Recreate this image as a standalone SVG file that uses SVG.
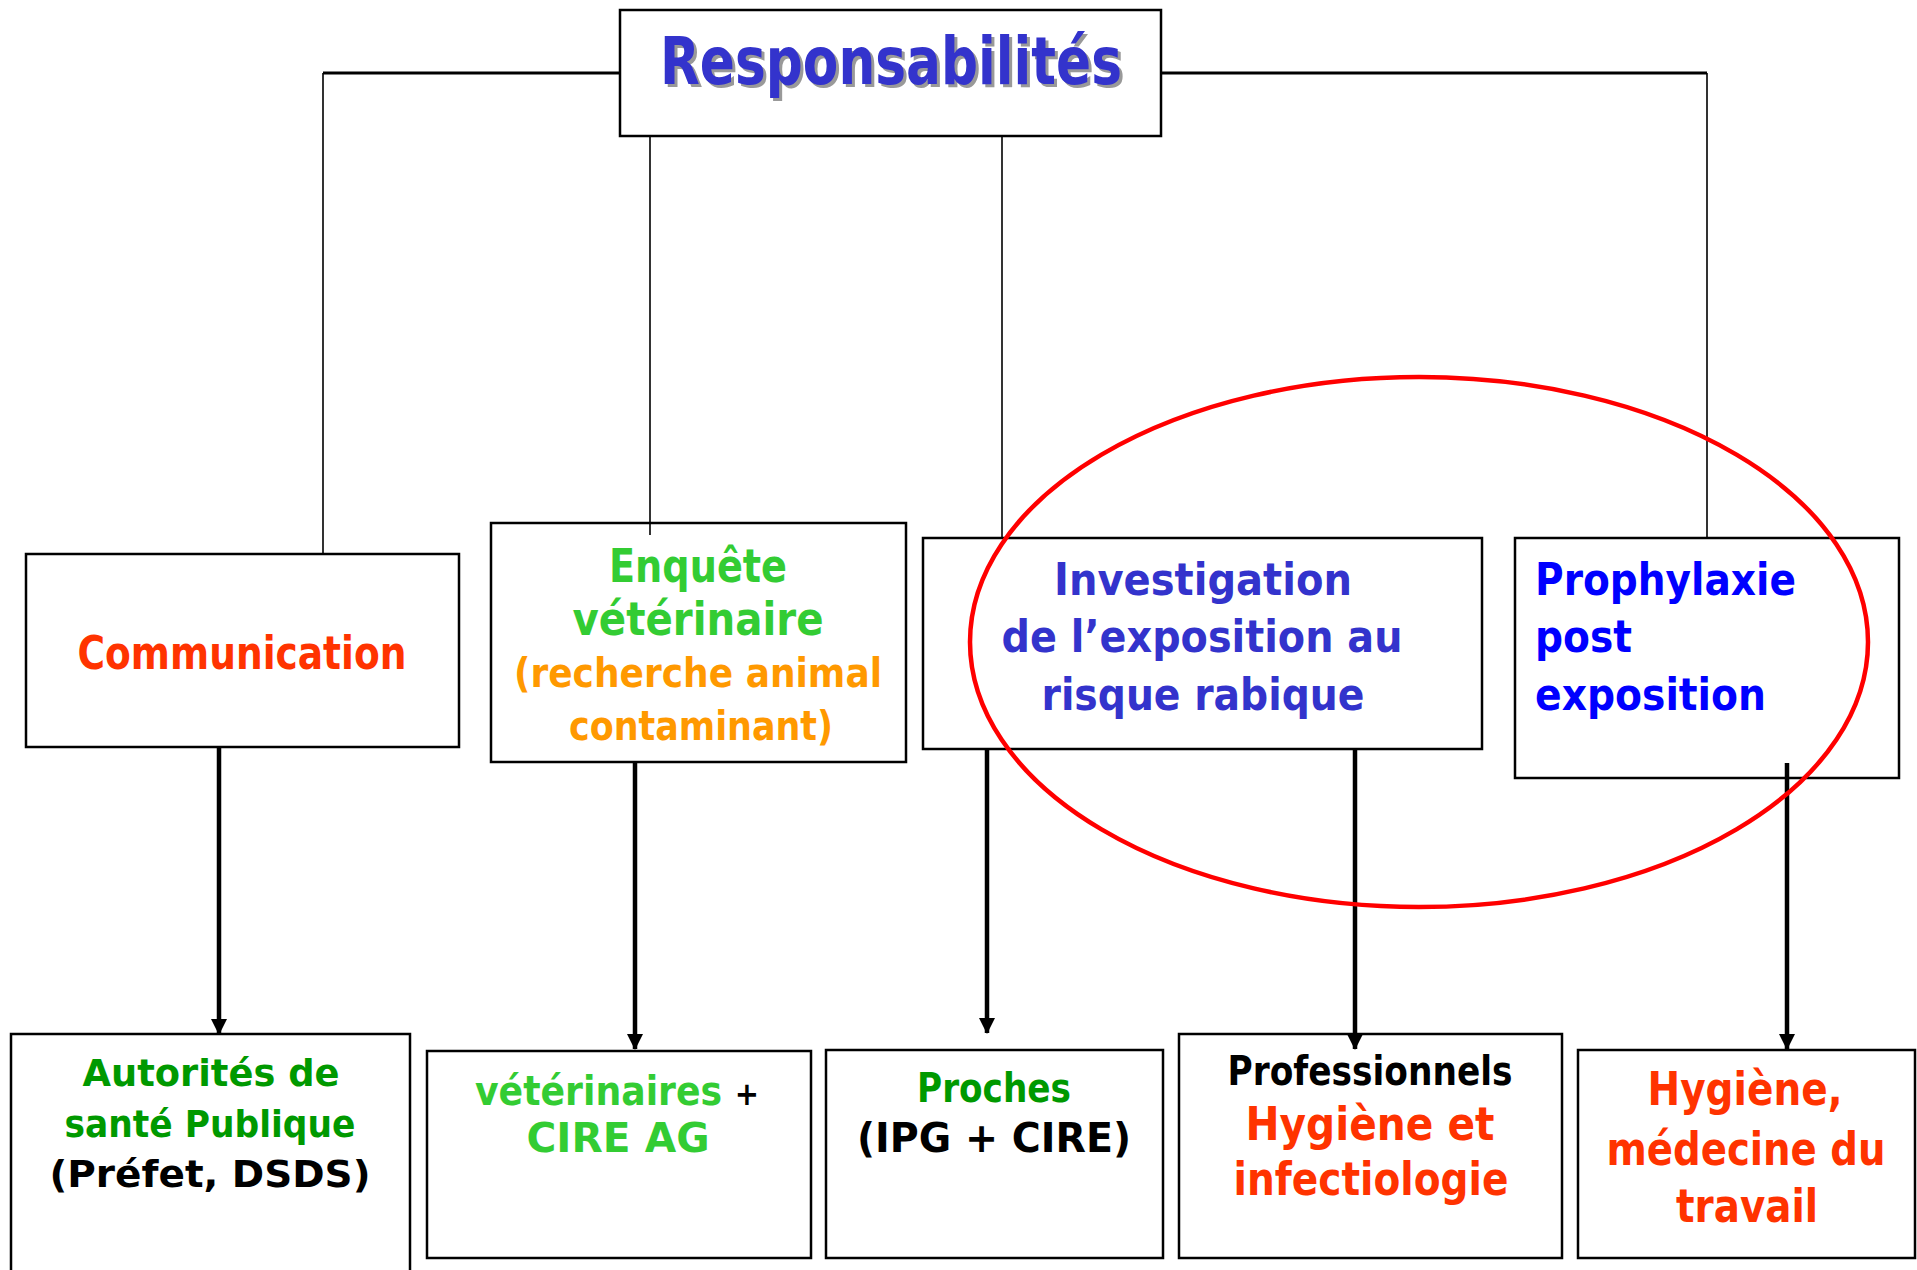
<svg xmlns="http://www.w3.org/2000/svg" width="1917" height="1270" viewBox="0 0 1917 1270">
<defs>
<style>
.box{fill:#fff;stroke:#000;stroke-width:2.5}
.t{font-family:'Comic Sans MS','DejaVu Sans',sans-serif;font-weight:bold;text-anchor:middle}
.l{text-anchor:start}
.thin{fill:none;stroke:#000;stroke-width:1.6}
.arr{fill:none;stroke:#000;stroke-width:4.5;marker-end:url(#ah)}
.red{fill:#FF3300}.lg{fill:#33CC33}.dg{fill:#009900}.or{fill:#FF9900}.bl{fill:#3333CC}.pb{fill:#0000FF}.k{fill:#000}
</style>
<marker id="ah" markerUnits="userSpaceOnUse" markerWidth="16" markerHeight="20" refX="15" refY="8" orient="auto">
<path d="M0,0 L16,8 L0,16 Z" fill="#000"/>
</marker>
</defs>
<rect width="1917" height="1270" fill="#fff"/>

<g id="n-responsabilites">
<rect class="box" x="620" y="10" width="541" height="126"/>
<text class="t" x="894" y="87" font-size="66" fill="#999" textLength="462" lengthAdjust="spacingAndGlyphs">Responsabilités</text>
<text class="t bl" x="891" y="84" font-size="66" textLength="462" lengthAdjust="spacingAndGlyphs">Responsabilités</text>
</g>

<g id="n-communication">
<rect class="box" x="26" y="554" width="433" height="193"/>
<text class="t red" x="242" y="669" font-size="46" textLength="329" lengthAdjust="spacingAndGlyphs">Communication</text>
</g>

<g id="n-enquete">
<rect class="box" x="491" y="523" width="415" height="239"/>
<text class="t lg" x="698" y="582" font-size="46" textLength="178" lengthAdjust="spacingAndGlyphs">Enquête</text>
<text class="t lg" x="698" y="635" font-size="46" textLength="251" lengthAdjust="spacingAndGlyphs">vétérinaire</text>
<text class="t or" x="698" y="687" font-size="40" textLength="368" lengthAdjust="spacingAndGlyphs">(recherche animal</text>
<text class="t or" x="701" y="740" font-size="40" textLength="264" lengthAdjust="spacingAndGlyphs">contaminant)</text>
</g>

<g id="n-investigation">
<rect class="box" x="923" y="538" width="559" height="211"/>
<text class="t bl" x="1203" y="595" font-size="44" textLength="298" lengthAdjust="spacingAndGlyphs">Investigation</text>
<text class="t bl" x="1202" y="652" font-size="44" textLength="401" lengthAdjust="spacingAndGlyphs">de l’exposition au</text>
<text class="t bl" x="1203" y="710" font-size="44" textLength="323" lengthAdjust="spacingAndGlyphs">risque rabique</text>
</g>

<g id="n-prophylaxie">
<rect class="box" x="1515" y="538" width="384" height="240"/>
<text class="t l pb" x="1535" y="595" font-size="44" textLength="261" lengthAdjust="spacingAndGlyphs">Prophylaxie</text>
<text class="t l pb" x="1535" y="652" font-size="44" textLength="97" lengthAdjust="spacingAndGlyphs">post</text>
<text class="t l pb" x="1535" y="710" font-size="44" textLength="231" lengthAdjust="spacingAndGlyphs">exposition</text>
</g>

<g id="n-autorites">
<rect class="box" x="11" y="1034" width="399" height="250"/>
<text class="t dg" x="211" y="1086" font-size="38" textLength="257" lengthAdjust="spacingAndGlyphs">Autorités de</text>
<text class="t dg" x="210" y="1137" font-size="38" textLength="291" lengthAdjust="spacingAndGlyphs">santé Publique</text>
<text class="t k" x="210" y="1187" font-size="38" textLength="321" lengthAdjust="spacingAndGlyphs">(Préfet, DSDS)</text>
</g>

<g id="n-veterinaires">
<rect class="box" x="427" y="1051" width="384" height="207"/>
<text class="t l lg" x="475" y="1105" font-size="40" textLength="284" lengthAdjust="spacingAndGlyphs">vétérinaires <tspan class="k" font-size="32">+</tspan></text>
<text class="t lg" x="618" y="1152" font-size="40" textLength="183" lengthAdjust="spacingAndGlyphs">CIRE AG</text>
</g>

<g id="n-proches">
<rect class="box" x="826" y="1050" width="337" height="208"/>
<text class="t dg" x="994" y="1102" font-size="40" textLength="154" lengthAdjust="spacingAndGlyphs">Proches</text>
<text class="t k" x="994" y="1152" font-size="40" textLength="274" lengthAdjust="spacingAndGlyphs">(IPG + CIRE)</text>
</g>

<g id="n-professionnels">
<rect class="box" x="1179" y="1034" width="383" height="224"/>
<text class="t k" x="1370" y="1085" font-size="40" textLength="285" lengthAdjust="spacingAndGlyphs">Professionnels</text>
<text class="t red" x="1370" y="1140" font-size="46" textLength="249" lengthAdjust="spacingAndGlyphs">Hygiène et</text>
<text class="t red" x="1371" y="1195" font-size="46" textLength="275" lengthAdjust="spacingAndGlyphs">infectiologie</text>
</g>

<g id="n-hygiene">
<rect class="box" x="1578" y="1050" width="337" height="208"/>
<text class="t red" x="1745" y="1105" font-size="46" textLength="195" lengthAdjust="spacingAndGlyphs">Hygiène,</text>
<text class="t red" x="1746" y="1165" font-size="46" textLength="279" lengthAdjust="spacingAndGlyphs">médecine du</text>
<text class="t red" x="1747" y="1222" font-size="46" textLength="142" lengthAdjust="spacingAndGlyphs">travail</text>
</g>

<g id="connectors">
<path class="thin" d="M323,554 V73 M1707,73 V538"/>
<path d="M323,73 H620 M1161,73 H1707" fill="none" stroke="#000" stroke-width="3"/>
<path class="thin" d="M650,137 V535"/>
<path class="thin" d="M1002,137 V538"/>
<path class="arr" d="M219,747 V1034"/>
<path class="arr" d="M635,762 V1049"/>
<path class="arr" d="M987,748 V1033"/>
<path class="arr" d="M1355,749 V1049"/>
<path class="arr" d="M1787,763 V1049"/>
</g>

<g id="highlight">
<ellipse cx="1419" cy="642" rx="449" ry="265" fill="none" stroke="#FF0000" stroke-width="4.5"/>
</g>
</svg>
